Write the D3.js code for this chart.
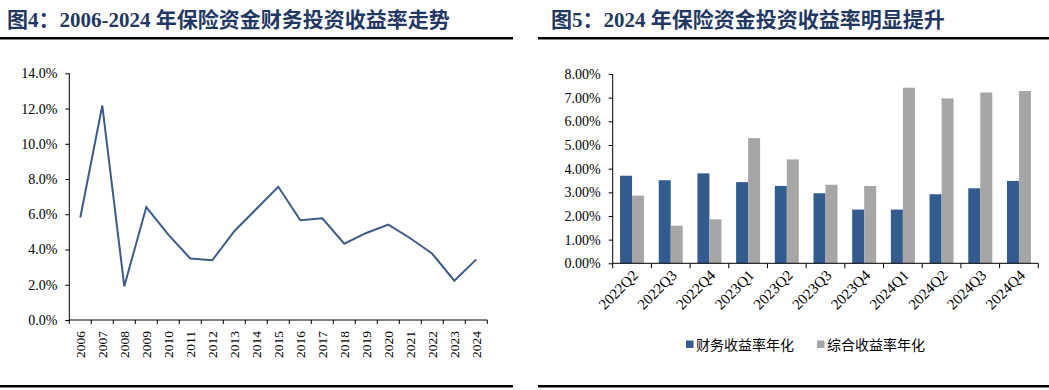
<!DOCTYPE html>
<meta charset="utf-8">
<style>
body { margin: 0; background: #fff; }
svg text { font-family: "Liberation Serif", "Times New Roman", serif; }
.title { font-family: "Liberation Serif", "Noto Sans CJK SC", serif; font-weight: bold; font-size: 21px; fill: #1f3864; }
.axis text { font-size: 14px; fill: #000; }
.axis path, .axis line { stroke: #000; }
.xq text { font-size: 15px; }
.xy text { font-size: 13.5px; }
.legend text { font-family: "Noto Sans CJK SC", serif; font-size: 14px; fill: #000; }
</style>
<svg width="1049" height="390"></svg>
<script src="https://cdn.jsdelivr.net/npm/d3@7"></script>
<script>

// 图4 数据
var years = ["2006","2007","2008","2009","2010","2011","2012","2013","2014","2015",
             "2016","2017","2018","2019","2020","2021","2022","2023","2024"];
var finYield = [5.82, 12.17, 1.91, 6.41, 4.84, 3.49, 3.39, 5.04, 6.30, 7.56,
                5.66, 5.77, 4.33, 4.94, 5.41, 4.64, 3.76, 2.23, 3.44];
var leftTicks = [0, 2, 4, 6, 8, 10, 12, 14];

// 图5 数据
var quarters = ["2022Q2","2022Q3","2022Q4","2023Q1","2023Q2","2023Q3","2023Q4",
                "2024Q1","2024Q2","2024Q3","2024Q4"];
var finAnnual = [3.70, 3.51, 3.80, 3.43, 3.27, 2.96, 2.27, 2.27, 2.92, 3.17, 3.48];
var compAnnual = [2.86, 1.59, 1.86, 5.29, 4.39, 3.32, 3.27, 7.42, 6.97, 7.22, 7.28];
var rightTicks = [0, 1, 2, 3, 4, 5, 6, 7, 8];
var seriesNames = ["财务收益率年化", "综合收益率年化"];
var seriesColors = ["#335b8e", "#a6a6a6"];

var svg = d3.select("svg");

// 标题和分隔线
svg.append("text").attr("class", "title").attr("x", 7).attr("y", 27)
    .text("图4：2006-2024 年保险资金财务投资收益率走势");
svg.append("text").attr("class", "title").attr("x", 551).attr("y", 27)
    .text("图5：2024 年保险资金投资收益率明显提升");

[[0, 513], [538, 1049]].forEach(function(r) {
    svg.append("rect").attr("x", r[0]).attr("y", 37).attr("width", r[1] - r[0]).attr("height", 2.5).attr("fill", "#000");
    svg.append("rect").attr("x", r[0]).attr("y", 385).attr("width", r[1] - r[0]).attr("height", 2.5).attr("fill", "#000");
});

// ---- 左图：折线 ----
var xL = d3.scaleBand().domain(years).range([69.3, 487.3]);
var yL = d3.scaleLinear().domain([0, 14]).range([320, 73.3]);

svg.append("g").attr("class", "axis")
    .attr("transform", "translate(69.3,0)")
    .call(d3.axisLeft(yL).tickValues(leftTicks).tickSize(4).tickPadding(8)
        .tickFormat(function(d) { return d.toFixed(1) + "%"; }))
    .call(function(g) { g.select(".domain").attr("d", "M0," + yL(14) + "V" + yL(0)); });

var gxL = svg.append("g").attr("class", "axis xy")
    .attr("transform", "translate(0,320)");
gxL.append("line").attr("x1", 69.3).attr("x2", 487.3).attr("stroke", "#000");
gxL.selectAll(".tk").data(d3.range(years.length + 1)).enter().append("line")
    .attr("x1", function(i) { return 69.3 + i * xL.step(); })
    .attr("x2", function(i) { return 69.3 + i * xL.step(); })
    .attr("y1", 0).attr("y2", 4).attr("stroke", "#000");
gxL.selectAll("text").data(years).enter().append("text")
    .attr("transform", function(d) { return "translate(" + (xL(d) + xL.bandwidth() / 2 + 4.5) + ",11) rotate(-90)"; })
    .attr("text-anchor", "end")
    .text(function(d) { return d; });

var line = d3.line()
    .x(function(d, i) { return xL(years[i]) + xL.bandwidth() / 2; })
    .y(function(d) { return yL(d); });

svg.append("path").datum(finYield)
    .attr("d", line)
    .attr("fill", "none")
    .attr("stroke", "#3b5d8a")
    .attr("stroke-width", 2);

// ---- 右图：柱状 ----
var x0 = d3.scaleBand().domain(quarters).range([612.7, 1038.3]);
var groupW = x0.bandwidth() * 0.62;
var x1 = d3.scaleBand().domain([0, 1]).range([(x0.bandwidth() - groupW) / 2, (x0.bandwidth() + groupW) / 2]);
var yR = d3.scaleLinear().domain([0, 8]).range([263.3, 74]);

var groups = svg.append("g").selectAll("g").data(quarters).enter().append("g")
    .attr("transform", function(d) { return "translate(" + x0(d) + ",0)"; });
groups.selectAll("rect").data(function(d, i) { return [finAnnual[i], compAnnual[i]]; })
    .enter().append("rect")
    .attr("x", function(d, j) { return x1(j); })
    .attr("width", x1.bandwidth())
    .attr("y", function(d) { return yR(d); })
    .attr("height", function(d) { return yR(0) - yR(d); })
    .attr("fill", function(d, j) { return seriesColors[j]; });

svg.append("g").attr("class", "axis")
    .attr("transform", "translate(612.7,0)")
    .call(d3.axisLeft(yR).tickValues(rightTicks).tickSize(4).tickPadding(8)
        .tickFormat(function(d) { return d.toFixed(2) + "%"; }))
    .call(function(g) { g.select(".domain").attr("d", "M0," + yR(8) + "V" + yR(0)); });

var gxR = svg.append("g").attr("class", "axis xq").attr("transform", "translate(0,263.3)");
gxR.append("line").attr("x1", 612.7).attr("x2", 1038.3).attr("stroke", "#000");
gxR.selectAll(".tk").data(d3.range(quarters.length + 1)).enter().append("line")
    .attr("x1", function(i) { return 612.7 + i * x0.step(); })
    .attr("x2", function(i) { return 612.7 + i * x0.step(); })
    .attr("y1", 0).attr("y2", 5).attr("stroke", "#000");
gxR.selectAll("text").data(quarters).enter().append("text")
    .attr("transform", function(d) { return "translate(" + (x0(d) + x0.bandwidth() / 2 + 7) + ",13) rotate(-45)"; })
    .attr("text-anchor", "end")
    .text(function(d) { return d; });

// 图例
var legend = svg.append("g").attr("class", "legend");
var legendX = [686, 817];
seriesNames.forEach(function(name, i) {
    legend.append("rect").attr("x", legendX[i]).attr("y", 340.5).attr("width", 7.5).attr("height", 7.5)
        .attr("fill", seriesColors[i]);
    legend.append("text").attr("x", legendX[i] + 10).attr("y", 349.5).text(name);
});

</script>
